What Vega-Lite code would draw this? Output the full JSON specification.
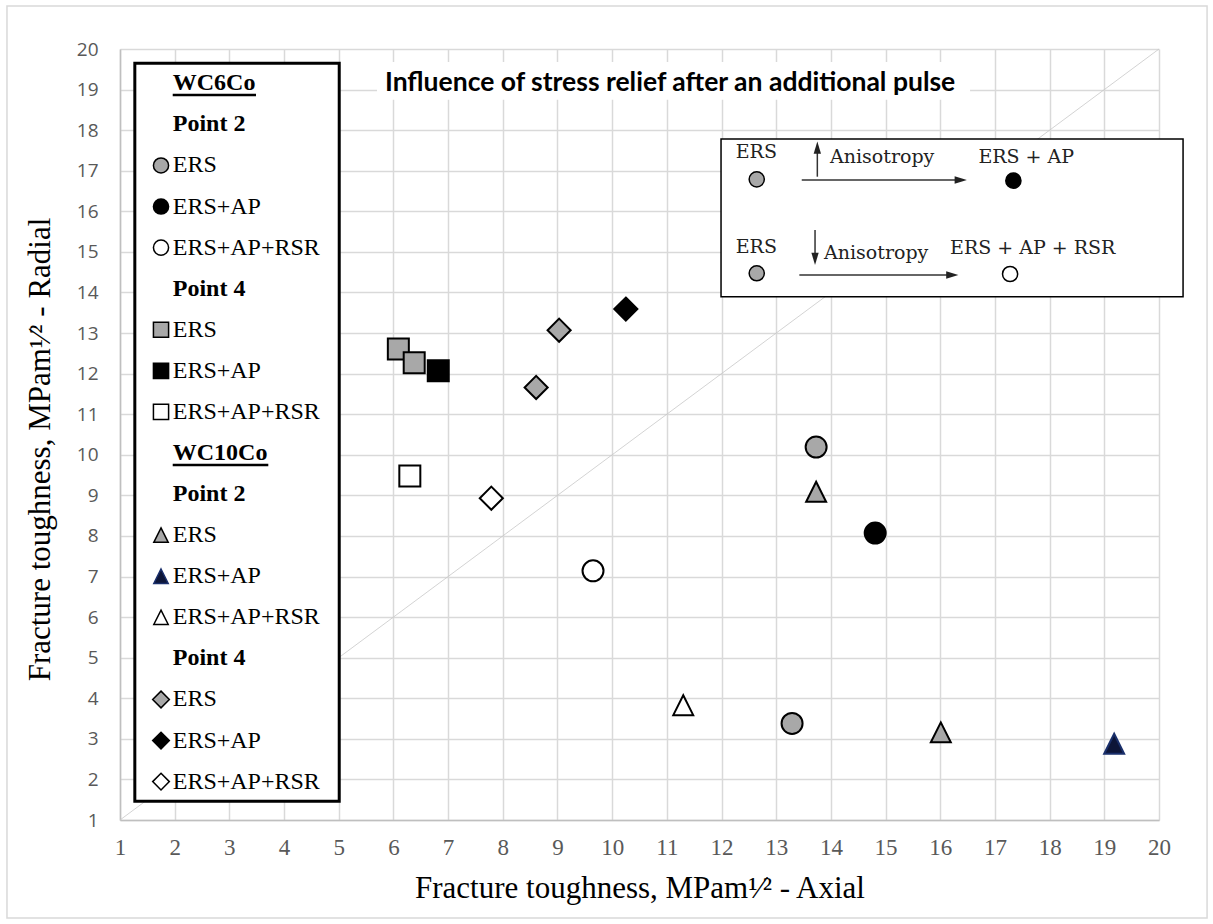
{
  "$schema": "https://vega.github.io/schema/vega-lite/v6.json",
  "width": 1039,
  "height": 771,
  "autosize": {"type": "none"},
  "padding": {"left": 120, "top": 49, "right": 54, "bottom": 104},
  "background": "white",
  "config": {"view": {"stroke": null}},
  "datasets": {
    "pts": [
      {"x": 13.73, "y": 10.19, "s": "WC6Co P2 ERS"},
      {"x": 13.29, "y": 3.38, "s": "WC6Co P2 ERS"},
      {"x": 14.81, "y": 8.07, "s": "WC6Co P2 ERS+AP"},
      {"x": 9.65, "y": 7.14, "s": "WC6Co P2 ERS+AP+RSR"},
      {"x": 6.09, "y": 12.61, "s": "WC6Co P4 ERS"},
      {"x": 6.38, "y": 12.27, "s": "WC6Co P4 ERS"},
      {"x": 6.82, "y": 12.07, "s": "WC6Co P4 ERS+AP"},
      {"x": 6.30, "y": 9.48, "s": "WC6Co P4 ERS+AP+RSR"},
      {"x": 13.73, "y": 9.09, "s": "WC10Co P2 ERS"},
      {"x": 16.01, "y": 3.16, "s": "WC10Co P2 ERS"},
      {"x": 19.18, "y": 2.88, "s": "WC10Co P2 ERS+AP"},
      {"x": 11.30, "y": 3.83, "s": "WC10Co P2 ERS+AP+RSR"},
      {"x": 9.03, "y": 13.07, "s": "WC10Co P4 ERS"},
      {"x": 8.61, "y": 11.66, "s": "WC10Co P4 ERS"},
      {"x": 10.25, "y": 13.59, "s": "WC10Co P4 ERS+AP"},
      {"x": 7.79, "y": 8.93, "s": "WC10Co P4 ERS+AP+RSR"}
    ],
    "leg": [
      {"x": 1.964, "y": 19.155, "label": "WC6Co", "k": "h"},
      {"x": 1.964, "y": 18.143, "label": "Point 2", "k": "h"},
      {"x": 1.964, "y": 17.130, "label": "ERS", "k": "i"},
      {"x": 1.964, "y": 16.118, "label": "ERS+AP", "k": "i"},
      {"x": 1.964, "y": 15.106, "label": "ERS+AP+RSR", "k": "i"},
      {"x": 1.964, "y": 14.093, "label": "Point 4", "k": "h"},
      {"x": 1.964, "y": 13.081, "label": "ERS", "k": "i"},
      {"x": 1.964, "y": 12.069, "label": "ERS+AP", "k": "i"},
      {"x": 1.964, "y": 11.057, "label": "ERS+AP+RSR", "k": "i"},
      {"x": 1.964, "y": 10.044, "label": "WC10Co", "k": "h"},
      {"x": 1.964, "y": 9.032, "label": "Point 2", "k": "h"},
      {"x": 1.964, "y": 8.020, "label": "ERS", "k": "i"},
      {"x": 1.964, "y": 7.007, "label": "ERS+AP", "k": "i"},
      {"x": 1.964, "y": 5.995, "label": "ERS+AP+RSR", "k": "i"},
      {"x": 1.964, "y": 4.983, "label": "Point 4", "k": "h"},
      {"x": 1.964, "y": 3.970, "label": "ERS", "k": "i"},
      {"x": 1.964, "y": 2.958, "label": "ERS+AP", "k": "i"},
      {"x": 1.964, "y": 1.946, "label": "ERS+AP+RSR", "k": "i"}
    ],
    "legsym": [
      {"x": 1.75, "y": 17.130, "s": "WC6Co P2 ERS"},
      {"x": 1.75, "y": 16.118, "s": "WC6Co P2 ERS+AP"},
      {"x": 1.75, "y": 15.106, "s": "WC6Co P2 ERS+AP+RSR"},
      {"x": 1.75, "y": 13.081, "s": "WC6Co P4 ERS"},
      {"x": 1.75, "y": 12.069, "s": "WC6Co P4 ERS+AP"},
      {"x": 1.75, "y": 11.057, "s": "WC6Co P4 ERS+AP+RSR"},
      {"x": 1.75, "y": 8.020, "s": "WC10Co P2 ERS"},
      {"x": 1.75, "y": 7.007, "s": "WC10Co P2 ERS+AP"},
      {"x": 1.75, "y": 5.995, "s": "WC10Co P2 ERS+AP+RSR"},
      {"x": 1.75, "y": 3.970, "s": "WC10Co P4 ERS"},
      {"x": 1.75, "y": 2.958, "s": "WC10Co P4 ERS+AP"},
      {"x": 1.75, "y": 1.946, "s": "WC10Co P4 ERS+AP+RSR"},
      {"x": 12.644, "y": 16.789, "s": "WC6Co P2 ERS"},
      {"x": 17.337, "y": 16.755, "s": "WC6Co P2 ERS+AP"},
      {"x": 12.644, "y": 14.473, "s": "WC6Co P2 ERS"},
      {"x": 17.277, "y": 14.455, "s": "WC6Co P2 ERS+AP+RSR"}
    ],
    "heads": [
      {"x": 13.752, "y": 17.57, "a": "up"},
      {"x": 16.375, "y": 16.772, "a": "right"},
      {"x": 13.71, "y": 14.83, "a": "down"},
      {"x": 16.22, "y": 14.431, "a": "right"}
    ]
  },
  "encoding": {
    "x": {
      "field": "x", "type": "quantitative",
      "scale": {"domain": [1, 20], "nice": false, "zero": false},
      "axis": {
        "values": [1,2,3,4,5,6,7,8,9,10,11,12,13,14,15,16,17,18,19,20],
        "grid": true, "gridColor": "#d9d9d9", "gridWidth": 1.5,
        "domainColor": "#bfbfbf", "domainWidth": 1.5,
        "ticks": false, "tickSize": 0,
        "labelFont": "Liberation Serif", "labelFontSize": 23, "labelColor": "#595959",
        "labelPadding": 16, "labelFlush": false, "labelOverlap": false, "labelBound": false,
        "title": "Fracture toughness, MPam¹⁄² - Axial",
        "titleFont": "Liberation Serif", "titleFontSize": 31, "titleFontWeight": "normal",
        "titleColor": "#000000", "titleY": 68, "titleBaseline": "middle"
      }
    },
    "y": {
      "field": "y", "type": "quantitative",
      "scale": {"domain": [1, 20], "nice": false, "zero": false},
      "axis": {
        "values": [1,2,3,4,5,6,7,8,9,10,11,12,13,14,15,16,17,18,19,20],
        "grid": true, "gridColor": "#d9d9d9", "gridWidth": 1.5,
        "domainColor": "#bfbfbf", "domainWidth": 1.5,
        "ticks": false, "tickSize": 0,
        "labelFont": "Open Sans", "labelFontSize": 19, "labelColor": "#595959",
        "labelPadding": 22, "labelOverlap": false, "labelBound": false, "labelFlush": false,
        "title": "Fracture toughness, MPam¹⁄² - Radial",
        "titleFont": "Liberation Serif", "titleFontSize": 31, "titleFontWeight": "normal",
        "titleColor": "#000000", "titleX": -80, "titleY": 400, "titleBaseline": "middle", "titleAlign": "center"
      }
    }
  },
  "layer": [
    {
      "data": {"values": [{"x": -1.067, "x2": 20.879, "y": 21.06, "y2": -1.414}]},
      "mark": {"type": "rect", "fillOpacity": 0, "stroke": "#d9d9d9", "strokeWidth": 1.5},
      "encoding": {"x2": {"field": "x2"}, "y2": {"field": "y2"}}
    },
    {
      "data": {"values": [{"x": 1, "y": 1}, {"x": 20, "y": 20}]},
      "mark": {"type": "line", "color": "#c8c8c8", "strokeWidth": 0.8}
    },
    {
      "data": {"values": [{"x": 5.70, "x2": 16.545, "y": 19.68, "y2": 18.75}]},
      "mark": {"type": "rect", "fill": "white"},
      "encoding": {"x2": {"field": "x2"}, "y2": {"field": "y2"}}
    },
    {
      "data": {"values": [{"x": 1.271, "x2": 5.009, "y": 19.65, "y2": 1.461}]},
      "mark": {"type": "rect", "fill": "white", "stroke": "black", "strokeWidth": 3},
      "encoding": {"x2": {"field": "x2"}, "y2": {"field": "y2"}}
    },
    {
      "data": {"values": [{"x": 11.991, "x2": 20.44, "y": 17.782, "y2": 13.896}]},
      "mark": {"type": "rect", "fill": "white", "stroke": "black", "strokeWidth": 1.5},
      "encoding": {"x2": {"field": "x2"}, "y2": {"field": "y2"}}
    },
    {
      "data": {"values": [{"x": 1.964, "x2": 3.487, "y": 18.866}, {"x": 1.964, "x2": 3.712, "y": 9.749}]},
      "mark": {"type": "rule", "color": "black", "strokeWidth": 2.5},
      "encoding": {"x2": {"field": "x2"}}
    },
    {
      "data": {"name": "leg"},
      "transform": [{"filter": "datum.k == 'h'"}],
      "mark": {"type": "text", "align": "left", "baseline": "middle", "font": "Liberation Serif", "fontSize": 24, "fontWeight": "bold", "color": "black"},
      "encoding": {"text": {"field": "label"}}
    },
    {
      "data": {"name": "leg"},
      "transform": [{"filter": "datum.k == 'i'"}],
      "mark": {"type": "text", "align": "left", "baseline": "middle", "font": "Liberation Serif", "fontSize": 24, "color": "black"},
      "encoding": {"text": {"field": "label"}}
    },
    {
      "data": {"name": "legsym"},
      "mark": {"type": "point", "filled": true, "opacity": 1, "size": 230, "strokeWidth": 1.5},
      "encoding": {
        "shape": {"field": "s", "type": "nominal", "legend": null, "scale": {
          "domain": ["WC6Co P2 ERS","WC6Co P2 ERS+AP","WC6Co P2 ERS+AP+RSR","WC6Co P4 ERS","WC6Co P4 ERS+AP","WC6Co P4 ERS+AP+RSR","WC10Co P2 ERS","WC10Co P2 ERS+AP","WC10Co P2 ERS+AP+RSR","WC10Co P4 ERS","WC10Co P4 ERS+AP","WC10Co P4 ERS+AP+RSR"],
          "range": ["circle","circle","circle","square","square","square","M0,-0.95L0.95,0.95L-0.95,0.95Z","M0,-0.95L0.95,0.95L-0.95,0.95Z","M0,-0.95L0.95,0.95L-0.95,0.95Z","M0,-1.1L1.1,0L0,1.1L-1.1,0Z","M0,-1.1L1.1,0L0,1.1L-1.1,0Z","M0,-1.1L1.1,0L0,1.1L-1.1,0Z"]}},
        "fill": {"field": "s", "type": "nominal", "legend": null, "scale": {
          "domain": ["WC6Co P2 ERS","WC6Co P2 ERS+AP","WC6Co P2 ERS+AP+RSR","WC6Co P4 ERS","WC6Co P4 ERS+AP","WC6Co P4 ERS+AP+RSR","WC10Co P2 ERS","WC10Co P2 ERS+AP","WC10Co P2 ERS+AP+RSR","WC10Co P4 ERS","WC10Co P4 ERS+AP","WC10Co P4 ERS+AP+RSR"],
          "range": ["#a8a8a8","#000000","#ffffff","#a8a8a8","#000000","#ffffff","#a8a8a8","#0d1538","#ffffff","#a8a8a8","#000000","#ffffff"]}},
        "stroke": {"field": "s", "type": "nominal", "legend": null, "scale": {
          "domain": ["WC6Co P2 ERS","WC6Co P2 ERS+AP","WC6Co P2 ERS+AP+RSR","WC6Co P4 ERS","WC6Co P4 ERS+AP","WC6Co P4 ERS+AP+RSR","WC10Co P2 ERS","WC10Co P2 ERS+AP","WC10Co P2 ERS+AP+RSR","WC10Co P4 ERS","WC10Co P4 ERS+AP","WC10Co P4 ERS+AP+RSR"],
          "range": ["#000000","#000000","#000000","#000000","#000000","#000000","#000000","#1a2f6b","#000000","#000000","#000000","#000000"]}}
      }
    },
    {
      "data": {"values": [
        {"x": 12.26, "y": 17.469, "label": "ERS"},
        {"x": 13.985, "y": 17.331, "label": "Anisotropy"},
        {"x": 16.697, "y": 17.331, "label": "ERS + AP"},
        {"x": 12.26, "y": 15.128, "label": "ERS"},
        {"x": 13.875, "y": 14.966, "label": "Anisotropy"},
        {"x": 16.179, "y": 15.089, "label": "ERS + AP + RSR"}
      ]},
      "mark": {"type": "text", "align": "left", "baseline": "middle", "font": "DejaVu Serif", "fontSize": 19, "color": "#222222"},
      "encoding": {"text": {"field": "label"}}
    },
    {
      "data": {"values": [
        {"x": 13.752, "x2": 13.752, "y": 17.6, "y2": 16.853},
        {"x": 13.467, "x2": 16.38, "y": 16.772, "y2": 16.772},
        {"x": 13.71, "x2": 13.71, "y": 15.54, "y2": 14.8},
        {"x": 13.423, "x2": 16.23, "y": 14.431, "y2": 14.431}
      ]},
      "mark": {"type": "rule", "color": "#333333", "strokeWidth": 1.5},
      "encoding": {"x2": {"field": "x2"}, "y2": {"field": "y2"}}
    },
    {
      "data": {"name": "heads"},
      "transform": [{"filter": "datum.a == 'up'"}],
      "mark": {"type": "point", "filled": true, "opacity": 1, "size": 150, "color": "#222222", "shape": "M0,-1L0.6,1L-0.6,1Z"}
    },
    {
      "data": {"name": "heads"},
      "transform": [{"filter": "datum.a == 'right'"}],
      "mark": {"type": "point", "filled": true, "opacity": 1, "size": 150, "color": "#222222", "shape": "M1,0L-1,-0.6L-1,0.6Z"}
    },
    {
      "data": {"name": "heads"},
      "transform": [{"filter": "datum.a == 'down'"}],
      "mark": {"type": "point", "filled": true, "opacity": 1, "size": 150, "color": "#222222", "shape": "M0,1L0.6,-1L-0.6,-1Z"}
    },
    {
      "data": {"values": [{"x": 5.846, "y": 19.17, "label": "Influence of stress relief after an additional pulse"}]},
      "mark": {"type": "text", "align": "left", "baseline": "middle", "font": "Lato", "fontSize": 26.5, "fontWeight": "bold", "color": "black"},
      "encoding": {"text": {"field": "label"}}
    },
    {
      "data": {"name": "pts"},
      "mark": {"type": "point", "filled": true, "opacity": 1, "size": 441, "strokeWidth": 2},
      "encoding": {
        "shape": {"field": "s", "type": "nominal", "legend": null, "scale": {
          "domain": ["WC6Co P2 ERS","WC6Co P2 ERS+AP","WC6Co P2 ERS+AP+RSR","WC6Co P4 ERS","WC6Co P4 ERS+AP","WC6Co P4 ERS+AP+RSR","WC10Co P2 ERS","WC10Co P2 ERS+AP","WC10Co P2 ERS+AP+RSR","WC10Co P4 ERS","WC10Co P4 ERS+AP","WC10Co P4 ERS+AP+RSR"],
          "range": ["circle","circle","circle","square","square","square","M0,-0.95L0.95,0.95L-0.95,0.95Z","M0,-0.95L0.95,0.95L-0.95,0.95Z","M0,-0.95L0.95,0.95L-0.95,0.95Z","M0,-1.1L1.1,0L0,1.1L-1.1,0Z","M0,-1.1L1.1,0L0,1.1L-1.1,0Z","M0,-1.1L1.1,0L0,1.1L-1.1,0Z"]}},
        "fill": {"field": "s", "type": "nominal", "legend": null, "scale": {
          "domain": ["WC6Co P2 ERS","WC6Co P2 ERS+AP","WC6Co P2 ERS+AP+RSR","WC6Co P4 ERS","WC6Co P4 ERS+AP","WC6Co P4 ERS+AP+RSR","WC10Co P2 ERS","WC10Co P2 ERS+AP","WC10Co P2 ERS+AP+RSR","WC10Co P4 ERS","WC10Co P4 ERS+AP","WC10Co P4 ERS+AP+RSR"],
          "range": ["#a8a8a8","#000000","#ffffff","#a8a8a8","#000000","#ffffff","#a8a8a8","#0d1538","#ffffff","#a8a8a8","#000000","#ffffff"]}},
        "stroke": {"field": "s", "type": "nominal", "legend": null, "scale": {
          "domain": ["WC6Co P2 ERS","WC6Co P2 ERS+AP","WC6Co P2 ERS+AP+RSR","WC6Co P4 ERS","WC6Co P4 ERS+AP","WC6Co P4 ERS+AP+RSR","WC10Co P2 ERS","WC10Co P2 ERS+AP","WC10Co P2 ERS+AP+RSR","WC10Co P4 ERS","WC10Co P4 ERS+AP","WC10Co P4 ERS+AP+RSR"],
          "range": ["#000000","#000000","#000000","#000000","#000000","#000000","#000000","#1a2f6b","#000000","#000000","#000000","#000000"]}}
      }
    }
  ]
}
